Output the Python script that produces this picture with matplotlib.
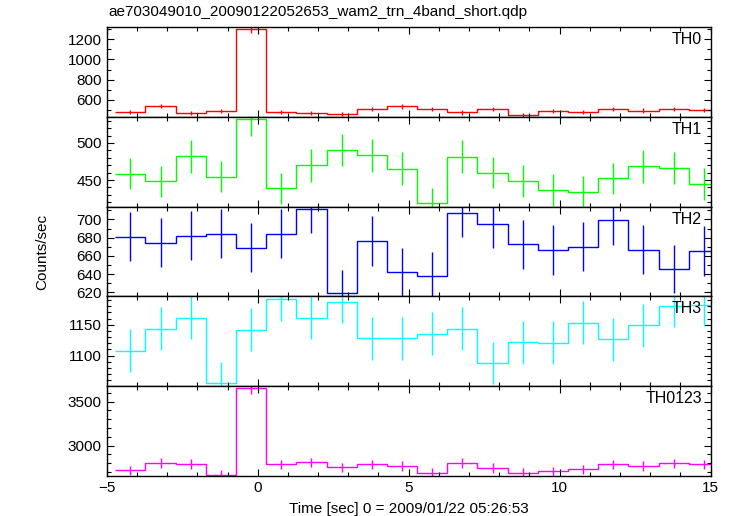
import numpy as np
import matplotlib
matplotlib.use("Agg")
import matplotlib.pyplot as plt
from matplotlib.ticker import MultipleLocator

plt.rcParams['font.family'] = ['Liberation Sans', 'DejaVu Sans']

# bin edges (1 s bins)
bin_start = -4.72
n_bins = 20
bin_width = 1.0

th0 = [478, 538, 469, 491, 1299, 478, 469, 459, 508, 534,
       508, 475, 508, 452, 491, 481, 508, 494, 508, 501]
th0_err = [22, 23, 22, 22, 36, 22, 22, 21, 23, 23,
           23, 22, 23, 21, 22, 22, 23, 22, 23, 22]

th1 = [458.5, 448.2, 481.8, 454.5, 532.5, 438.8, 469.6, 490.6, 483.4, 465.2,
       418.7, 481.3, 459.8, 448.6, 436.5, 434.4, 452.2, 468.3, 466.0, 444.6]
th1_err = [21, 21, 22, 21, 23, 21, 22, 22, 22, 22,
           20, 22, 21, 21, 21, 21, 21, 22, 22, 21]

th2 = [681.1, 674.5, 682.2, 684.4, 669.1, 684.4, 711.7, 619.0, 676.4, 642.2,
       638.2, 707.3, 695.3, 672.7, 666.5, 670.1, 699.3, 666.9, 645.8, 665.5]
th2_err = [27, 27, 27, 27, 27, 27, 27, 26, 27, 26,
           26, 27, 27, 27, 27, 27, 27, 27, 26, 27]

th3 = [1107.6, 1143.5, 1161.4, 1055.0, 1142.3, 1191.0, 1161.4, 1187.4, 1128.1, 1128.1,
       1135.3, 1143.5, 1088.5, 1121.6, 1120.6, 1153.3, 1126.5, 1148.9, 1181.0, 1182.6]
th3_err = [35, 35, 35, 34, 35, 35, 35, 35, 35, 35,
           35, 35, 34, 35, 35, 35, 35, 35, 35, 35]

th0123 = [2719, 2803, 2792, 2670, 3652, 2789, 2811, 2755, 2789, 2769,
          2693, 2803, 2747, 2693, 2709, 2732, 2789, 2769, 2800, 2789]
th0123_err = [53, 54, 54, 52, 61, 54, 54, 53, 54, 53,
              52, 54, 53, 52, 52, 53, 54, 53, 54, 54]

series = [
    ("TH0", th0, th0_err, "#ff0000", (430, 1318), 200, 100),
    ("TH1", th1, th1_err, "#00ff00", (414, 535), 50, 10),
    ("TH2", th2, th2_err, "#0000ff", (615.7, 714), 20, 10),
    ("TH3", th3, th3_err, "#00ffff", (1050.5, 1196), 50, 10),
    ("TH0123", th0123, th0123_err, "#ff00ff", (2658, 3677), 500, 100),
]

edges = bin_start + bin_width * np.arange(n_bins + 1)
centers = 0.5 * (edges[:-1] + edges[1:])

fig = plt.figure(figsize=(7.33, 5.16), dpi=100)
left, right = 106.8 / 733, 710.5 / 733
top, bottom = 1 - 27.3 / 516, 1 - 475.8 / 516
gs = fig.add_gridspec(5, 1, left=left, right=right, top=top, bottom=bottom, hspace=0)

axes = []
for i, (name, vals, errs, color, ylim, major, minor) in enumerate(series):
    ax = fig.add_subplot(gs[i, 0], sharex=axes[0] if axes else None)
    axes.append(ax)
    ax.stairs(vals, edges, baseline=None, color=color, linewidth=1.0)
    ax.errorbar(centers, vals, yerr=errs, fmt='none', ecolor=color,
                elinewidth=1.0, capsize=0)
    ax.set_ylim(*ylim)
    ax.set_xlim(-5, 15)
    ax.yaxis.set_major_locator(MultipleLocator(major))
    ax.yaxis.set_minor_locator(MultipleLocator(minor))
    ax.xaxis.set_major_locator(MultipleLocator(5))
    ax.xaxis.set_minor_locator(MultipleLocator(1))
    ax.tick_params(which='both', direction='in', top=True, right=True,
                   width=0.8, labelsize=11)
    ax.tick_params(which='major', length=5)
    ax.tick_params(which='minor', length=3)
    for sp in ax.spines.values():
        sp.set_linewidth(1.0)
    ax.text(0.986, 0.945, name, transform=ax.transAxes, ha='right', va='top',
            fontsize=11.5)
    if i < 4:
        ax.tick_params(labelbottom=False)

axes[-1].set_xlabel("Time [sec] 0 = 2009/01/22 05:26:53", fontsize=11, labelpad=5)
fig.text(0.057, (top + bottom) / 2, "Counts/sec", rotation=90, ha='center',
         va='center', fontsize=11)
fig.text(left + 0.002, 1 - 12 / 516, "ae703049010_20090122052653_wam2_trn_4band_short.qdp",
         ha='left', va='center', fontsize=11)

fig.savefig("out.png", dpi=100)
